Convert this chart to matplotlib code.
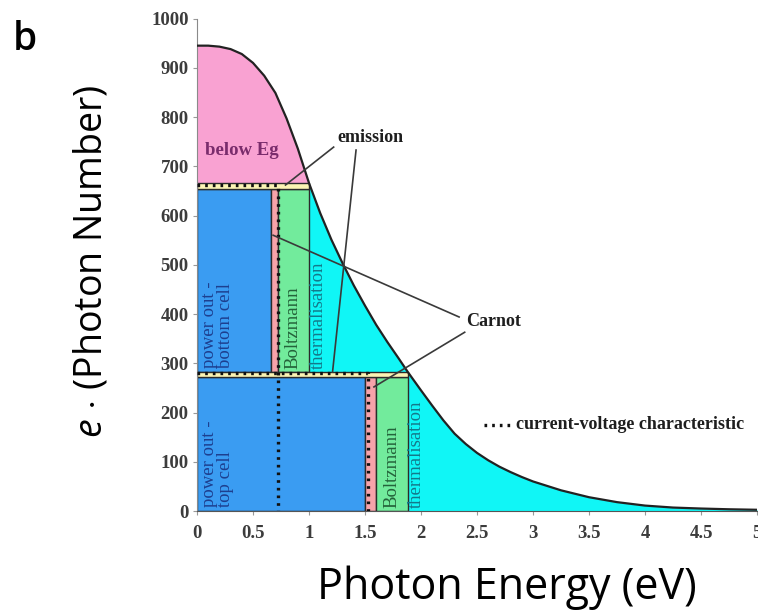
#!/usr/bin/env python
#-*- coding: utf-8 -*-
import matplotlib
matplotlib.use('Agg')
import matplotlib.pyplot as plt

# photon flux spectrum (photons per unit energy, scaled by e)
energy = [0, 0.1, 0.2, 0.3, 0.4, 0.5, 0.6, 0.7, 0.8, 0.9, 1.0, 1.1, 1.2, 1.3, 1.4,
          1.5, 1.6, 1.7, 1.8, 1.88, 2.0, 2.1, 2.2, 2.3, 2.4, 2.5, 2.6, 2.7, 2.8,
          2.9, 3.0, 3.25, 3.5, 3.75, 4.0, 4.25, 4.5, 4.75, 5.0]
photons = [945, 945, 943, 938, 928, 910, 884, 849, 797, 736, 666, 605, 551, 503, 458,
           417, 378, 343, 310, 283, 245, 214, 184, 157, 136, 118, 103, 90, 79,
           69, 60, 42, 28, 18, 11, 7, 5, 3.5, 2.5]

# bottom cell (Eg = 1.0 eV): power out | Carnot | Boltzmann
bottom_gap = 1.0
bottom_edges = [0, 0.66, 0.72, 1.0]
bottom_levels = [283, 654, 666]   # cell floor, current, emission top
# top cell (Eg = 1.88 eV)
top_gap = 1.88
top_edges = [0, 1.5, 1.6, 1.88]
top_levels = [0, 273, 283]

# current-voltage characteristics (V, J)
iv_bottom = [[0, 0.72, 0.72], [663, 663, 0]]
iv_top = [[0, 1.53, 1.53], [280, 280, 0]]

xticks = [0, 0.5, 1, 1.5, 2, 2.5, 3, 3.5, 4, 4.5, 5]
yticks = [0, 100, 200, 300, 400, 500, 600, 700, 800, 900, 1000]

c_below = '#f9a2d2'
c_power = '#3a9cf2'
c_carnot = '#f7a3aa'
c_boltz = '#72eb9c'
c_therm = '#10f6f6'
c_emis = '#fbf4b4'
c_edge = '#2b2b2b'


def draw_cell(ax, edges, levels, gap, label_power):
    lo, mid, hi = levels
    colors = [c_power, c_carnot, c_boltz]
    for ith in range(3):
        ax.bar(edges[ith], mid-lo, width=edges[ith+1]-edges[ith], bottom=lo, align='edge',
               color=colors[ith], edgecolor=c_edge, linewidth=1.0, zorder=2)
    # emission band on top of the cell
    ax.bar(0, hi-mid, width=gap, bottom=mid, align='edge', color=c_emis,
           edgecolor=c_edge, linewidth=1.0, zorder=2)
    txt = dict(rotation=90, ha='center', va='bottom', family='Liberation Serif',
               fontsize=13.5, zorder=5)
    ax.text(0.185, lo+8, label_power, color='#1d3f8f', multialignment='left',
            linespacing=0.95, **txt)
    ax.text((edges[2]+edges[3])/2, lo+6, 'Boltzmann', color='#24633a', **txt)
    ax.text(gap+0.08, lo+6, 'thermalisation', color='#14798a', **txt)


def drawSpectrum():
    plt.rcParams['mathtext.fontset'] = 'custom'
    plt.rcParams['mathtext.it'] = 'Open Sans:italic'
    plt.rcParams['mathtext.rm'] = 'Open Sans'

    fig = plt.figure(figsize=(7.58, 6.15), dpi=100)
    ax = fig.add_axes([0.2599, 0.1691, 0.7388, 0.8007])

    i_bot = energy.index(bottom_gap)
    i_top = energy.index(top_gap)

    # below-gap losses and thermalisation
    ax.fill_between(energy[:i_bot+1], bottom_levels[2], photons[:i_bot+1],
                    color=c_below, lw=0, zorder=1)
    ax.fill_between(energy[i_bot:i_top+1], bottom_levels[0], photons[i_bot:i_top+1],
                    color=c_therm, lw=0, zorder=1)
    ax.fill_between(energy[i_top:], 0, photons[i_top:], color=c_therm, lw=0, zorder=1)

    draw_cell(ax, bottom_edges, bottom_levels, bottom_gap, 'power out -\nbottom cell')
    draw_cell(ax, top_edges, top_levels, top_gap, 'power out -\ntop cell')

    ax.plot(energy, photons, color='#222222', lw=1.6, zorder=4)

    dots = dict(color='#111111', lw=2.4, ls=(0, (0.8, 1.5)), zorder=4)
    ax.plot(iv_bottom[0], iv_bottom[1], **dots)
    ax.plot(iv_top[0], iv_top[1], **dots)

    ax.text(0.40, 733, 'below Eg', color='#7a2c6c', family='Liberation Serif',
            fontsize=13.5, weight='bold', ha='center', va='center', zorder=5)

    note = dict(color='#1e1e1e', family='Liberation Serif', fontsize=13,
                weight='bold', va='center', zorder=6)
    leader = dict(color='#3a3a3a', lw=1.2, zorder=6)
    ax.text(1.55, 759, 'emission', ha='center', **note)
    ax.plot([1.22, 0.79], [739, 662], **leader)
    ax.plot([1.42, 1.21], [733, 282], **leader)
    ax.text(2.65, 384, 'Carnot', ha='center', **note)
    ax.plot([2.34, 0.68], [394, 560], **leader)
    ax.plot([2.39, 1.58], [363, 252], **leader)

    ax.plot([2.56, 2.81], [175, 175], **dots)
    ax.text(2.85, 175, 'current-voltage characteristic', ha='left', **note)

    ax.set(xlim=[0, 5], ylim=[0, 1000])
    ax.set_xticks(xticks)
    ax.set_xticklabels(['%g' % v for v in xticks])
    ax.set_yticks(yticks)
    for lab in ax.get_xticklabels()+ax.get_yticklabels():
        lab.set_family('Liberation Serif')
        lab.set_weight('bold')
        lab.set_fontsize(13.5)
        lab.set_color('#3c3c3c')
    ax.tick_params(axis='x', direction='out', length=3, color='#999999', pad=7)
    ax.tick_params(axis='y', direction='out', length=3, color='#999999', pad=3)
    for side in ['top', 'right']:
        ax.spines[side].set_visible(False)
    ax.spines['left'].set_color('#8a8a8a')
    ax.spines['bottom'].set_color('#555555')
    ax.patch.set_alpha(0)

    fig.text(92/758., 1-261/615., r'$e$ $\cdot$ (Photon Number)', rotation=90,
             ha='center', va='center', fontsize=27, family='Open Sans')
    fig.text(507/758., 1-588/615., 'Photon Energy (eV)', ha='center', va='center',
             fontsize=31, family='Open Sans')
    fig.text(25/758., 1-40/615., 'b', ha='center', va='center', fontsize=28,
             family='Open Sans', weight='semibold')

    fig.savefig('out.png', dpi=100)
    return


if __name__ == "__main__":
    drawSpectrum()
